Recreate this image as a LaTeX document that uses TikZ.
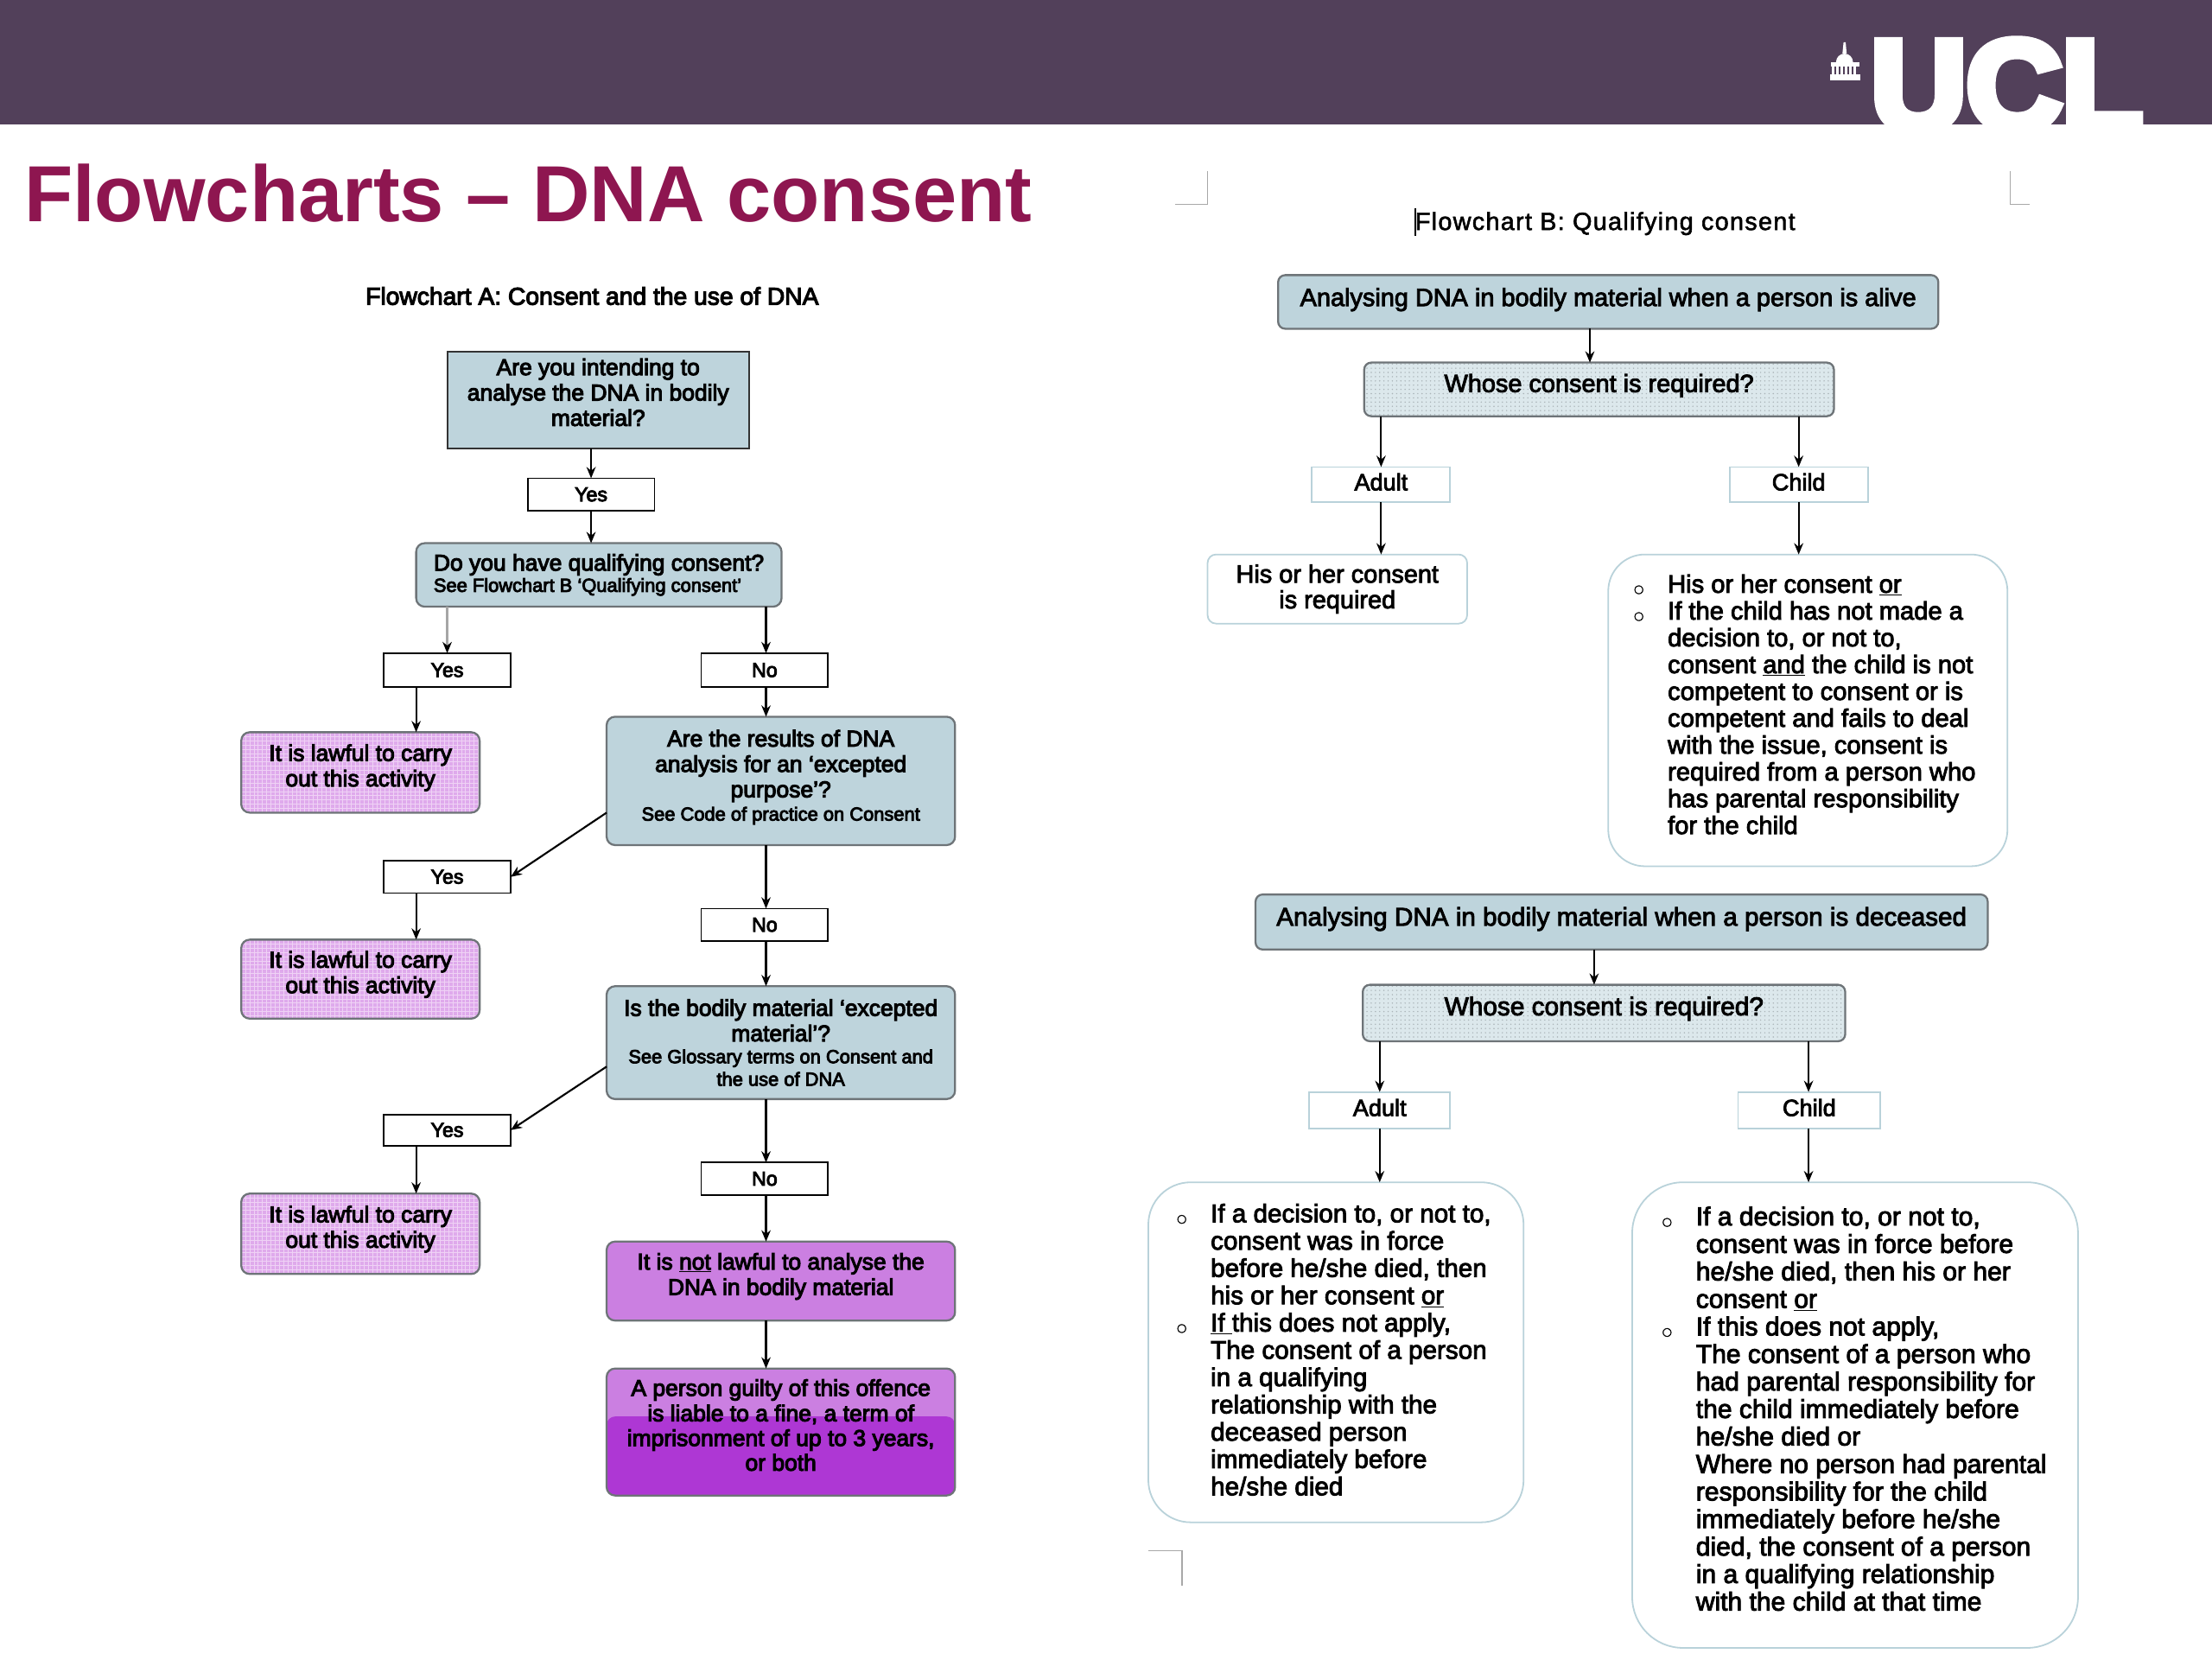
\documentclass[tikz,border=0pt]{standalone}
\usepackage{fontspec}
\usetikzlibrary{arrows.meta,patterns,shapes.misc}
\setmainfont{Liberation Sans}
\newfontfamily\bodyf[FakeBold=4]{Liberation Sans}
\newfontfamily\bodyb[FakeBold=3]{Liberation Sans}
\newfontfamily\bodyls[FakeBold=2,LetterSpace=4.6]{Liberation Sans}
\newfontfamily\uclf[FakeBold=7]{Liberation Sans Bold}
\newfontfamily\dejav[FakeBold=2]{DejaVu Sans}
\definecolor{band}{HTML}{52405A}
\definecolor{ttl}{HTML}{8E1650}
\definecolor{blue}{HTML}{BED4DC}
\definecolor{bluel}{HTML}{DCE8EC}
\definecolor{edgeg}{HTML}{6E7478}
\definecolor{edget}{HTML}{B9D2DA}
\definecolor{lilac}{HTML}{DFAAEC}
\definecolor{lilacl}{HTML}{EFD2F5}
\definecolor{purp}{HTML}{CB7FE1}
\definecolor{purd}{HTML}{AE37D4}
\definecolor{crop}{HTML}{A8A8A8}
\newcommand{\bx}[7]{%
  \pgfmathsetmacro\bxcx{(#3+#5)/2}\pgfmathsetmacro\bxcy{(#4+#6)/2}%
  \pgfmathsetmacro\bxw{#5-#3}\pgfmathsetmacro\bxh{#6-#4}%
  \node[#2,minimum width=\bxw pt,minimum height=\bxh pt] (#1) at (\bxcx,\bxcy) {#7};}
\newcommand{\sm}[1]{{\fontsize{13.4}{15}\selectfont #1}}
\newcommand{\bul}{\llap{{\dejav\fontsize{8}{8}\selectfont ○}\hspace{17pt}}}
\tikzset{
  basebox/.style={inner sep=0pt,outer sep=0pt,align=center,font=\bodyf\fontsize{16.2}{18}\selectfont},
  sqblue/.style={basebox,rectangle,fill=blue,draw=black!80,line width=1.2pt},
  rndblue/.style={basebox,rectangle,rounded corners=6pt,fill=blue,draw=edgeg,line width=1.4pt},
  label/.style={basebox,rectangle,fill=white,draw=black,line width=1.1pt,font=\bodyf\fontsize{14.2}{15}\selectfont},
  lawful/.style={basebox,rectangle,rounded corners=6pt,draw=edgeg,line width=1.4pt,preaction={fill=lilac},pattern=grid,pattern color=lilacl,text depth=10pt},
  notlaw/.style={basebox,rectangle,rounded corners=6pt,fill=purp,draw=edgeg,line width=1.4pt,text depth=10pt},
  guilty/.style={notlaw,path picture={\fill[purd] (path picture bounding box.south west) rectangle ([yshift=56pt]path picture bounding box.south east);}},
  headb/.style={rndblue,font=\bodyb\fontsize{17.7}{19}\selectfont,rounded corners=5pt},
  whose/.style={rndblue,font=\bodyb\fontsize{17.7}{19}\selectfont,rounded corners=5pt,preaction={fill=bluel},pattern=dots,pattern color=blue!70!black!70},
  tlabel/.style={basebox,rectangle,fill=white,draw=edget,line width=1.1pt,font=\bodyb\fontsize{16.6}{18}\selectfont,text depth=4pt},
  soft/.style={basebox,rectangle,fill=white,draw=edget,line width=1.1pt,font=\bodyb\fontsize{17.7}{18.2}\selectfont},
  listtext/.style={anchor=north west,inner sep=0pt,align=left,font=\bodyb\fontsize{17.6}{19.4}\selectfont},
  arr/.style={-{Stealth[length=8pt,width=6.5pt]},line width=1.3pt,black},
  cropm/.style={crop,line width=0.9pt},
}
\begin{document}
\begin{tikzpicture}[x=1pt,y=-1pt]
\useasboundingbox (0,0) rectangle (1568,1176);
% header
\fill[band] (0,0) rectangle (1568,88.5);
\node[anchor=base west,inner sep=0pt,text=white,font=\uclf\fontsize{91}{91}\selectfont,xscale=1.03] (ucl) at (1326,92) {UCL};
% building icon
\fill[white] (1297,52.5) rectangle (1319,57);
\fill[white] (1298,44) rectangle (1318,47);
\foreach \cx in {1299.5,1302.5,...,1317}{\fill[white] (\cx-0.9,47) rectangle (\cx+0.9,52.5);}
\fill[white] (1301.5,44) arc[start angle=180,end angle=360,radius=6];
\fill[white] (1306.8,30) -- (1308.3,30) -- (1309,38) -- (1306,38) -- cycle;
% title
\node[anchor=base west,inner sep=0pt,text=ttl,font=\bfseries\fontsize{56.4}{60}\selectfont] (title) at (17,157) {Flowcharts – DNA consent};
\node[anchor=base west,inner sep=0pt,font=\bodyf\fontsize{17.3}{20}\selectfont] (titleA) at (259,216) {Flowchart A: Consent and the use of DNA};
\node[anchor=base west,inner sep=0pt,font=\bodyls\fontsize{17.6}{20}\selectfont] (titleB) at (1003,163) {Flowchart B: Qualifying consent};
\draw[line width=1.2pt,black] (1003,147.5) -- (1003,167);
% crop marks
\draw[cropm] (833,145) -- (856,145) -- (856,121);
\draw[cropm] (1425,121) -- (1425,145) -- (1439,145);
\draw[cropm] (814,1099) -- (838,1099) -- (838,1124);
\draw[cropm] (1436,1099) -- (1449,1099);
\draw[cropm] (1425,1103) -- (1425,1124);
% --- Flowchart A
\bx{q1}{sqblue,text depth=11pt}{317}{249}{531}{318}{Are you intending to\\analyse the DNA in bodily\\material?}
\bx{y1}{label}{374}{339}{464}{362}{Yes}
\bx{q2}{rndblue,align=left}{295}{385}{554}{430}{Do you have qualifying consent?\\[-3pt]\sm{See Flowchart B ‘Qualifying consent’}}
\bx{y2}{label}{272}{463}{362}{487}{Yes}
\bx{n2}{label}{497}{463}{587}{487}{No}
\bx{l1}{lawful}{171}{519}{340}{576}{It is lawful to carry\\out this activity}
\bx{q3}{rndblue,text depth=8pt}{430}{508}{677}{599}{Are the results of DNA\\analysis for an ‘excepted\\purpose’?\\[-1.5pt]\sm{See Code of practice on Consent}}
\bx{y3}{label}{272}{610}{362}{633}{Yes}
\bx{l2}{lawful}{171}{666}{340}{722}{It is lawful to carry\\out this activity}
\bx{n3}{label}{497}{644}{587}{667}{No}
\bx{q4}{rndblue}{430}{699}{677}{779}{Is the bodily material ‘excepted\\material’?\\[-2.5pt]\sm{See Glossary terms on Consent and}\\[-2pt]\sm{the use of DNA}}
\bx{y4}{label}{272}{790}{362}{812}{Yes}
\bx{l3}{lawful}{171}{846}{340}{903}{It is lawful to carry\\out this activity}
\bx{n4}{label}{497}{824}{587}{847}{No}
\bx{nl}{notlaw}{430}{880}{677}{936}{It is \underline{not} lawful to analyse the\\DNA in bodily material}
\bx{gu}{guilty}{430}{970}{677}{1060}{A person guilty of this offence\\is liable to a fine, a term of\\[-0.5pt]imprisonment of up to 3 years,\\[-0.5pt]or both}
\coordinate (xa) at (295,0);
\coordinate (xb) at (543,0);
\coordinate (xc) at (419,0);
\coordinate (e3) at (430,576);
\coordinate (e4) at (430,756);
\draw[arr] (q1.south -| xc) -- (y1.north -| xc);
\draw[arr] (y1.south -| xc) -- (q2.north -| xc);
\draw[arr,draw=black!35,{-{Stealth[length=8pt,width=6.5pt,black]}}] (q2.south -| y2.north) -- (y2.north);
\draw[arr] (q2.south -| xb) -- (n2.north -| xb);
\draw[arr] (y2.south -| xa) -- (l1.north -| xa);
\draw[arr] (n2.south -| xb) -- (q3.north -| xb);
\draw[arr] (e3) -- (y3.east);
\draw[arr] (y3.south -| xa) -- (l2.north -| xa);
\draw[arr] (q3.south -| xb) -- (n3.north -| xb);
\draw[arr] (n3.south -| xb) -- (q4.north -| xb);
\draw[arr] (e4) -- (y4.east);
\draw[arr] (y4.south -| xa) -- (l3.north -| xa);
\draw[arr] (q4.south -| xb) -- (n4.north -| xb);
\draw[arr] (n4.south -| xb) -- (nl.north -| xb);
\draw[arr] (nl.south -| xb) -- (gu.north -| xb);
% --- Flowchart B, alive
\bx{al}{headb}{906}{195}{1374}{233}{\raisebox{7pt}{Analysing DNA in bodily material when a person is alive}}
\bx{w1}{whose}{967}{257}{1300}{295}{\raisebox{9pt}{Whose consent is required?}}
\bx{ad1}{tlabel}{930}{331}{1028}{356}{Adult}
\bx{ch1}{tlabel}{1226}{331}{1324}{356}{Child}
\bx{hi}{soft,rounded corners=6pt}{856}{393}{1040}{442}{His or her consent\\is required}
\bx{cb1}{soft,rounded corners=26pt}{1140}{393}{1423}{614}{}
\node[listtext,font=\bodyb\fontsize{17.85}{19}\selectfont] (ct1) at (1182,407) {\bul His or her consent \underline{or}\\\bul If the child has not made a\\decision to, or not to,\\consent \underline{and} the child is not\\competent to consent or is\\competent and fails to deal\\with the issue, consent is\\required from a person who\\has parental responsibility\\for the child};
\coordinate (x1) at (1127,0);
\coordinate (x2) at (979,0);
\coordinate (x3) at (1275,0);
\draw[arr] (al.south -| x1) -- (w1.north -| x1);
\draw[arr] (w1.south -| x2) -- (ad1.north -| x2);
\draw[arr] (w1.south -| x3) -- (ch1.north -| x3);
\draw[arr] (ad1.south -| x2) -- (hi.north -| x2);
\draw[arr] (ch1.south -| x3) -- (cb1.north -| x3);
% --- Flowchart B, deceased
\bx{de}{headb,font=\bodyb\fontsize{18.15}{19}\selectfont}{890}{634}{1409}{673}{\raisebox{8pt}{Analysing DNA in bodily material when a person is deceased}}
\bx{w2}{whose,font=\bodyb\fontsize{18.25}{19}\selectfont}{966}{698}{1308}{738}{\raisebox{10pt}{Whose consent is required?}}
\bx{ad2}{tlabel}{928}{774}{1028}{800}{Adult}
\bx{ch2}{tlabel}{1232}{774}{1333}{800}{Child}
\bx{cb2}{soft,rounded corners=30pt}{814}{838}{1080}{1079}{}
\bx{cb3}{soft,rounded corners=36pt}{1157}{838}{1473}{1168}{}
\node[listtext,font=\bodyb\fontsize{18.15}{19.35}\selectfont] (ct2) at (858,853) {\bul If a decision to, or not to,\\consent was in force\\before he/she died, then\\his or her consent \underline{or}\\\bul \underline{If }this does not apply,\\The consent of a person\\in a qualifying\\relationship with the\\deceased person\\immediately before\\he/she died};
\node[listtext,font=\bodyb\fontsize{18.4}{19.5}\selectfont] (ct3) at (1202,855) {\bul If a decision to, or not to,\\consent was in force before\\he/she died, then his or her\\consent \underline{or}\\\bul If this does not apply,\\The consent of a person who\\had parental responsibility for\\the child immediately before\\he/she died or\\Where no person had parental\\responsibility for the child\\immediately before he/she\\died, the consent of a person\\in a qualifying relationship\\with the child at that time};
\coordinate (x4) at (1130,0);
\coordinate (x5) at (978,0);
\coordinate (x6) at (1282,0);
\draw[arr] (de.south -| x4) -- (w2.north -| x4);
\draw[arr] (w2.south -| x5) -- (ad2.north -| x5);
\draw[arr] (w2.south -| x6) -- (ch2.north -| x6);
\draw[arr] (ad2.south -| x5) -- (cb2.north -| x5);
\draw[arr] (ch2.south -| x6) -- (cb3.north -| x6);
\end{tikzpicture}
\end{document}
